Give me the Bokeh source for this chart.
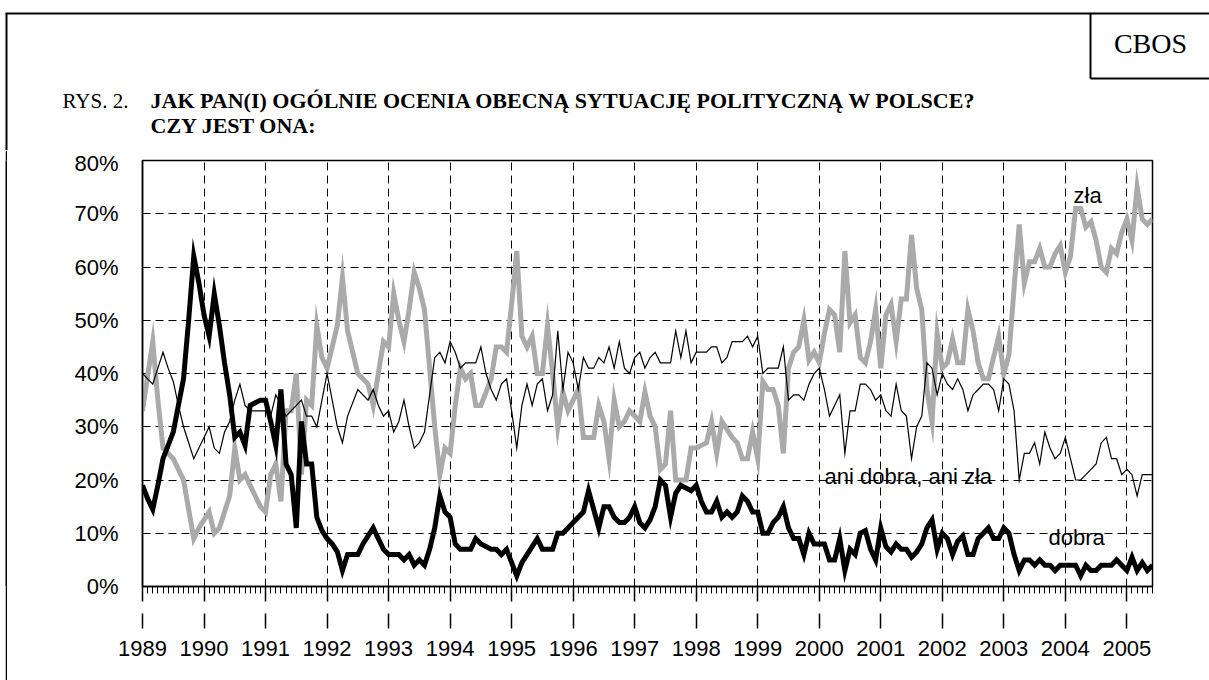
from bokeh.plotting import figure
from bokeh.layouts import column, row
from bokeh.models import (Range1d, FixedTicker, PrintfTickFormatter, Label,
                          ColumnDataSource, LinearAxis, Spacer)
from bokeh.embed import file_html
from bokeh.resources import INLINE

# ---------------- data ----------------
START_YEAR = 1989
N_MONTHS = 198  # Jan 1989 .. Jun 2005
MONTHS = [f"{START_YEAR + i // 12}-{i % 12 + 1:02d}" for i in range(N_MONTHS)]
YEARS = list(range(1989, 2006))
YEAR_LABELS = [str(y) for y in YEARS]
Y_TICKS = [0, 10, 20, 30, 40, 50, 60, 70, 80]

DOBRA = [
    19, 16.5, 14.5, 19, 24, 26.5, 29, 34, 39, 50,
    62, 57, 51, 47, 55, 49, 42, 36, 28, 29,
    26.5, 34, 34.5, 35, 35, 31, 26.5, 37, 23, 21,
    11, 31, 23, 23, 13, 10.5, 9, 8, 6.5, 3,
    6, 6, 6, 8, 9.5, 11, 9, 7, 6, 6,
    6, 5, 6, 4, 5, 4, 7, 11, 17, 14,
    13, 8, 7, 7, 7, 9, 8, 7.5, 7, 7,
    6, 7, 4.5, 2, 4.5, 6, 7.5, 9, 7, 7,
    7, 10, 10, 11, 12, 13, 14, 18, 14.5, 11,
    15, 15, 13, 12, 12, 13, 15, 12, 11, 12.5,
    15, 20, 19, 13, 17.5, 19, 18.5, 18, 19, 16,
    14, 14, 16, 13, 14, 13, 14, 17, 16, 14,
    14, 10, 10, 12, 13, 15, 11, 9, 9, 6,
    10, 8, 8, 8, 5, 5, 9, 3, 7, 6,
    10, 10.5, 7, 5, 11, 7.5, 6.5, 8, 7, 7,
    5.5, 6.5, 8, 11, 12.5, 7, 10, 9, 6, 8.5,
    9.5, 6, 6, 9, 10, 11, 9, 9, 11, 10,
    6, 3, 5, 5, 4, 5, 4, 4, 3, 4,
    4, 4, 4, 2, 4, 3, 3, 4, 4, 4,
    5, 4, 3, 5.5, 3, 4.5, 3, 4,
]

ANI = [
    40, 39, 38, 41, 44, 41, 38.5, 34, 30, 27,
    24, 26, 28, 30, 26, 25, 29, 31, 35, 38,
    34, 33, 33, 33, 33, 32, 36, 34, 32, 33,
    34, 35, 32, 32, 30, 35, 40, 35, 30, 27,
    32, 34.5, 37, 36, 35, 37, 34, 32, 33, 29,
    31, 35, 30, 26, 27, 29, 36, 43, 44, 42,
    46, 44, 41, 42, 42, 42, 45, 40, 37, 35,
    38, 39, 33, 26, 34, 38, 34, 38, 39, 33,
    36, 48, 37, 44, 42, 37, 43, 41, 41, 43,
    42, 45, 41, 46, 41, 40, 43, 44, 41, 43,
    44, 42, 42, 42, 48, 43, 48, 42, 44, 44,
    44, 45, 45, 42, 43, 46, 46, 46, 47, 45,
    47, 40, 41, 41, 41, 45, 35, 36, 36, 35,
    38, 40, 41, 37, 32, 34, 36, 25, 33, 33,
    38, 38, 37, 35, 36, 33, 32, 38, 33, 32,
    24, 30, 32, 42, 41, 36, 40, 38, 37, 39,
    37, 33, 36, 37, 38, 38, 37, 33, 39, 38,
    33, 20, 25, 25, 27, 23, 29, 26, 24, 25,
    28, 24, 20, 20, 21, 22, 23, 27, 28, 24,
    24, 21, 22, 21, 17, 21, 21, 21,
]

ZLA = [
    33, 39.5, 46, 35, 26, 25, 24, 22, 20, 14.5,
    9, 11, 12.5, 14, 10, 11, 14, 17, 26, 20,
    21, 19, 17, 15, 14, 21, 23, 16, 33, 33,
    40, 21, 35, 34, 49, 43, 41, 45, 49, 58,
    48, 44, 40, 39, 38, 34, 40, 46, 45, 55,
    50, 46, 52, 59, 56, 52, 41, 30, 21, 26,
    25, 34, 41, 39, 40, 34, 34, 36.5, 39, 45,
    45, 44, 53, 63, 47, 45, 47, 40, 40, 49,
    40, 30, 36.5, 33, 35, 37, 28, 28, 28, 34,
    31, 24, 35, 30, 31, 33, 32, 31, 36.5, 32,
    30, 22, 23, 33, 20, 20, 20, 26, 26, 26.5,
    27, 31, 25, 31, 29.5, 28, 27, 24, 24, 29,
    24, 38.5, 37, 37, 34, 25, 41, 44, 45, 50,
    42.5, 44, 42, 47.5, 52, 51, 44, 63, 49.5, 51,
    43, 42, 46, 52, 41, 51, 53, 46, 54, 54,
    66, 56, 52, 37, 31, 47.5, 41, 42, 46.5, 42,
    42, 52, 48, 42, 39, 39, 43, 47, 40, 43.5,
    56, 68, 57, 61, 61, 63.5, 60, 60, 62.5, 64,
    59, 62, 71, 71, 67.5, 68.5, 65, 60, 59, 63.5,
    62.5, 66.5, 69, 65, 75, 69, 68, 69,
]

TITLE_PREFIX = "RYS. 2."
TITLE_LINE1 = "JAK PAN(I) OGÓLNIE OCENIA OBECNĄ SYTUACJĘ POLITYCZNĄ W POLSCE?"
TITLE_LINE2 = "CZY JEST ONA:"
SOURCE = "CBOS"

# ---------------- helpers ----------------
def month_x(s):
    y, m = s.split("-")
    return int(y) + (int(m) - 1) / 12.0

XS = [month_x(s) for s in MONTHS]
X0, X1 = XS[0], XS[-1]
Y0, Y1 = 0, 80

PAGE_W = 1209
TOP_H = 150
CH_H = 530
PAD_W = 5
LINE_W = 2
CH_W = PAGE_W - PAD_W - LINE_W
BL, BR, BT, BB = 135, 57, 10, 94
FW, FH = CH_W - BL - BR, CH_H - BT - BB
FRAME_PX_L = PAD_W + LINE_W + BL   # page x of frame left
FRAME_PX_T = TOP_H + BT            # page y of frame top

def fx(px):  # page pixel -> data x of chart
    return X0 + (px - FRAME_PX_L) / FW * (X1 - X0)

def fy(py):  # page pixel -> data y of chart
    return Y1 - (py - FRAME_PX_T) / FH * (Y1 - Y0)

SERIF = "Liberation Serif"
SANS = "Liberation Sans"

# ---------------- header figure ----------------
top = figure(width=PAGE_W, height=TOP_H, output_backend="svg", toolbar_location=None,
             x_range=Range1d(0, PAGE_W), y_range=Range1d(TOP_H, 0),
             x_axis_type=None, y_axis_type=None, min_border=0)
top.outline_line_color = None
top.background_fill_color = "white"
top.border_fill_color = "white"
top.segment(x0=[5, 6, 1090, 1090], y0=[13, 13, 13, 78],
            x1=[PAGE_W, 6, 1090, PAGE_W], y1=[13, TOP_H, 78, 78],
            line_color="black", line_width=2)
top.add_layout(Label(x=62, y=100, text=TITLE_PREFIX, text_font=SERIF, text_font_size="21px",
                     text_align="left", text_baseline="middle", text_color="black"))
top.add_layout(Label(x=150, y=100, text=TITLE_LINE1, text_font=SERIF, text_font_size="22px",
                     text_font_style="bold", text_align="left", text_baseline="middle",
                     text_color="black"))
top.add_layout(Label(x=150, y=125, text=TITLE_LINE2, text_font=SERIF, text_font_size="22px",
                     text_font_style="bold", text_align="left", text_baseline="middle",
                     text_color="black"))
top.add_layout(Label(x=1150, y=43, text=SOURCE, text_font=SERIF, text_font_size="28px",
                     text_align="center", text_baseline="middle", text_color="black"))

# ---------------- outer-frame left line (solid black strip) ----------------
pad = Spacer(width=PAD_W, height=CH_H)
vline = figure(width=LINE_W, height=CH_H, output_backend="svg", toolbar_location=None,
               x_axis_type=None, y_axis_type=None, min_border=0)
vline.outline_line_color = None
vline.background_fill_color = "black"
vline.border_fill_color = "black"

# ---------------- chart ----------------
p = figure(width=CH_W, height=CH_H, output_backend="svg", toolbar_location=None,
           x_range=Range1d(X0, X1), y_range=Range1d(Y0, Y1),
           min_border_left=BL, min_border_right=BR,
           min_border_top=BT, min_border_bottom=BB)
p.background_fill_color = "white"
p.border_fill_color = "white"
p.outline_line_color = "black"
p.outline_line_width = 1.5

p.xgrid.grid_line_color = "black"
p.xgrid.grid_line_dash = "8 5"
p.xgrid.grid_line_width = 1
p.ygrid.grid_line_color = "black"
p.ygrid.grid_line_dash = "8 5"
p.ygrid.grid_line_width = 1

year_ticker = FixedTicker(ticks=YEARS, minor_ticks=XS)
labels_map = {y: lab for y, lab in zip(YEARS, YEAR_LABELS)}

# axis A: axis line, short year ticks, monthly minor ticks, no labels
xa = p.xaxis[0]
xa.ticker = year_ticker
xa.major_tick_out = 15
xa.major_tick_in = 0
xa.minor_tick_out = 7
xa.minor_tick_in = 0
xa.major_tick_line_width = 1.5
xa.minor_tick_line_width = 1
xa.axis_line_width = 1.5
xa.major_label_text_color = None

# axis B: invisible spacer
xb = LinearAxis(ticker=FixedTicker(ticks=YEARS, minor_ticks=[]), axis_line_color=None,
                major_tick_line_color=None, minor_tick_line_color=None,
                major_tick_out=12, major_tick_in=0, minor_tick_out=0, minor_tick_in=0,
                major_label_text_color=None)
p.add_layout(xb, "below")

# axis C: second row of year ticks and the year labels
xc = LinearAxis(ticker=FixedTicker(ticks=YEARS, minor_ticks=[]), axis_line_color=None,
                major_tick_out=15, major_tick_in=0, minor_tick_out=0, minor_tick_in=0,
                major_tick_line_width=1.5, minor_tick_line_color=None,
                major_label_standoff=12, major_label_text_font=SANS,
                major_label_text_font_size="22px", major_label_text_color="black",
                major_label_overrides=labels_map)
p.add_layout(xc, "below")

ya = p.yaxis[0]
ya.ticker = FixedTicker(ticks=Y_TICKS)
ya.formatter = PrintfTickFormatter(format="%d%%")
ya.major_tick_out = 0
ya.major_tick_in = 0
ya.minor_tick_out = 0
ya.minor_tick_in = 0
ya.axis_line_width = 1.5
ya.major_label_standoff = 24
ya.major_label_text_font = SANS
ya.major_label_text_font_size = "22px"
ya.major_label_text_color = "black"

src = ColumnDataSource(dict(x=XS, dobra=DOBRA, ani=ANI, zla=ZLA))
p.line("x", "zla", source=src, line_color="#aaaaaa", line_width=5, line_join="miter")
p.line("x", "ani", source=src, line_color="black", line_width=1.2, line_join="miter")
p.line("x", "dobra", source=src, line_color="black", line_width=5, line_join="miter")

for txt, px, py in [("zła", 1073, 195), ("ani dobra, ani zła", 824, 476), ("dobra", 1048, 537)]:
    p.add_layout(Label(x=fx(px), y=fy(py), text=txt, text_font=SANS,
                       text_font_size="22px", text_align="left", text_baseline="middle",
                       text_color="black"))

layout = column(top, row(pad, vline, p, spacing=0), spacing=0)
open("out.html", "w").write(file_html(layout, INLINE))
